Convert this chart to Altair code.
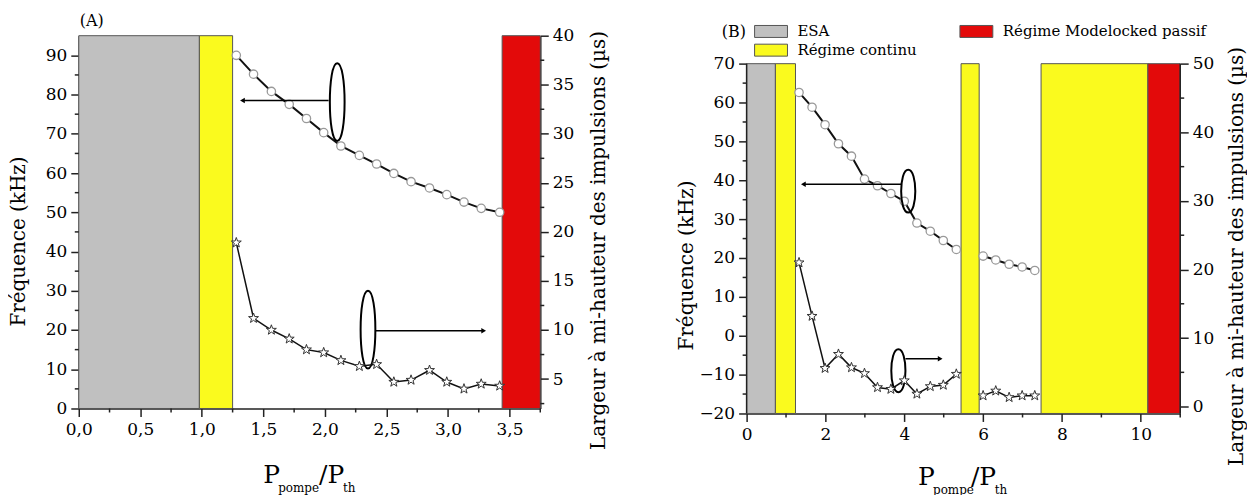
import altair as alt
import pandas as pd

FONT = "DejaVu Serif"

# ---------------- Panel A data ----------------
a_x = [1.28, 1.42, 1.565, 1.71, 1.85, 1.99, 2.13, 2.28, 2.42, 2.56, 2.70, 2.85, 2.99, 3.13, 3.27, 3.42]
a_freq = [90.0, 85.2, 80.8, 77.5, 73.9, 70.3, 66.9, 64.5, 62.3, 59.9, 57.8, 56.2, 54.5, 52.6, 51.0, 50.0]
a_width = [18.9, 11.2, 10.0, 9.1, 8.0, 7.7, 6.9, 6.3, 6.5, 4.7, 4.9, 5.9, 4.7, 4.0, 4.5, 4.3]
a_seg = [1] * 16
a_band_kind = ["ESA", "Régime continu", "Régime Modelocked passif"]
a_band_start = [0.0, 0.98, 3.44]
a_band_end = [0.98, 1.25, 3.75]
a_band_range = [0, 95]
a_x_domain = [0, 3.75]
a_left_domain = [0, 95]
a_right_domain = [2, 40]
a_x_major = [0, 0.5, 1.0, 1.5, 2.0, 2.5, 3.0, 3.5]
a_x_minor = [0.25, 0.75, 1.25, 1.75, 2.25, 2.75, 3.25, 3.75]
a_left_major = [0, 10, 20, 30, 40, 50, 60, 70, 80, 90]
a_left_minor = [5, 15, 25, 35, 45, 55, 65, 75, 85]
a_right_major = [5, 10, 15, 20, 25, 30, 35, 40]
a_right_minor = [2.5, 7.5, 12.5, 17.5, 22.5, 27.5, 32.5, 37.5]
a_ell_x = [2.10, 2.35]
a_ell_y = [78.1, 20.1]
a_arr_x1 = [2.03, 2.41]
a_arr_x2 = [1.33, 3.29]
a_arr_y = [78.5, 19.8]
a_arr_dir = ["left", "right"]

# ---------------- Panel B data ----------------
b_x = [1.33, 1.66, 1.99, 2.33, 2.66, 2.99, 3.32, 3.66, 4.0, 4.32, 4.66, 4.99, 5.32, 6.0, 6.32, 6.66, 6.99, 7.31]
b_freq = [62.6, 58.8, 54.3, 49.4, 46.2, 40.3, 38.6, 36.6, 34.6, 29.0, 26.9, 24.5, 22.2, 20.5, 19.5, 18.4, 17.7, 16.8]
b_width = [21.0, 13.2, 5.6, 7.65, 5.7, 4.85, 2.8, 2.55, 3.8, 1.85, 2.95, 3.15, 4.75, 1.6, 2.3, 1.35, 1.6, 1.6]
b_seg = [1, 1, 1, 1, 1, 1, 1, 1, 1, 1, 1, 1, 1, 2, 2, 2, 2, 2]
b_band_kind = ["ESA", "Régime continu", "Régime continu", "Régime continu", "Régime Modelocked passif"]
b_band_start = [0.0, 0.73, 5.44, 7.47, 10.18]
b_band_end = [0.73, 1.24, 5.9, 10.18, 11.0]
b_band_range = [-20, 70]
b_x_domain = [0, 11]
b_left_domain = [-20, 77.2]   # headroom above 70 leaves space for the legend
b_right_domain = [-1, 54.1]
b_x_major = [0, 2, 4, 6, 8, 10]
b_x_minor = [1, 3, 5, 7, 9, 11]
b_left_major = [-20, -10, 0, 10, 20, 30, 40, 50, 60, 70]
b_left_minor = [-15, -5, 5, 15, 25, 35, 45, 55, 65]
b_right_major = [0, 10, 20, 30, 40, 50]
b_right_minor = [5, 15, 25, 35, 45]
b_ell_x = [4.10, 3.85]
b_ell_y = [37.2, -9.0]
b_arr_x1 = [3.92, 4.03]
b_arr_x2 = [1.44, 4.91]
b_arr_y = [39.0, -5.9]
b_arr_dir = ["left", "right"]

legend_order = ["ESA", "Régime continu", "Régime Modelocked passif"]
legend_colors = ["#c0c0c0", "#fafa1e", "#e30a0a"]

AXIS_COLOR = "#222222"
STAR = ("M0,-1L0.235,-0.324L0.951,-0.309L0.380,0.124L0.588,0.809L0,0.4"
        "L-0.588,0.809L-0.380,0.124L-0.951,-0.309L-0.235,-0.324Z")
RECT = "M-2.75,-1H2.75V1H-2.75Z"


def ellipse_path(rx):
    c = round(rx * 4 / 3, 3)
    return f"M0,-1C{c},-1 {c},1 0,1C{-c},1 {-c},-1 0,-1Z"


def y_axis(values, orient, title, title_pad, title_y, baseline, domain):
    return alt.Axis(
        values=values, orient=orient, title=title, titlePadding=title_pad,
        titleY=title_y, titleAngle=270, titleBaseline=baseline, titleAlign="center",
        tickSize=8, labelOverlap=False, labelFlush=False, labelPadding=4, grid=False,
        domain=domain,
    )


def text_piece(s, x, y, size, baseline="alphabetic"):
    return alt.Chart(alt.Data(values=[{}])).mark_text(
        text=s, font=FONT, fontSize=size, align="left", baseline=baseline, color="black"
    ).encode(x=alt.value(x), y=alt.value(y))


def panel(p):
    xs = alt.Scale(domain=p["xdom"], nice=False, zero=False)
    ls = alt.Scale(domain=p["ldom"], nice=False, zero=False)
    rs = alt.Scale(domain=p["rdom"], nice=False, zero=False)
    x0, x1 = p["xdom"]

    n_b = len(p["band_kind"])
    bands_df = pd.DataFrame({"kind": p["band_kind"], "start": p["band_start"], "end": p["band_end"],
                             "lo": [p["band_range"][0]] * n_b, "hi": [p["band_range"][1]] * n_b})
    pts = pd.DataFrame({"x": p["x"], "freq": p["freq"], "width": p["width"], "seg": p["seg"]})
    ell = pd.DataFrame({"x": p["ell_x"], "y": p["ell_y"]})
    arr = pd.DataFrame({"x1": p["arr_x1"], "x2": p["arr_x2"], "y": p["arr_y"], "dir": p["arr_dir"]})

    xaxis = alt.Axis(values=p["xmajor"], title=None, labelExpr=p["xlabel"], tickSize=8,
                     labelOverlap=False, labelFlush=False, labelPadding=5, grid=False)

    bands = alt.Chart(bands_df).mark_rect(stroke="#555555", strokeWidth=1).encode(
        x=alt.X("start:Q", scale=xs, axis=xaxis),
        x2="end:Q",
        y=alt.Y("lo:Q", scale=ls,
                axis=y_axis(p["lmajor"], "left", "Fréquence (kHz)", p["ltitlepad"], p["ltitley"],
                            "bottom", p["ydomainline"])),
        y2="hi:Q",
        color=alt.Color("kind:N", scale=alt.Scale(domain=legend_order, range=legend_colors),
                        legend=p["legend"]),
    )
    # minor ticks (outward, shorter than the major ones)
    lminor = alt.Chart(pd.DataFrame({"v": p["lminor"], "x": [x0] * len(p["lminor"])})).mark_rule(
        color=AXIS_COLOR, strokeWidth=1.5, x2Offset=-4).encode(
        x=alt.X("x:Q", scale=xs), x2="x:Q", y=alt.Y("v:Q", scale=ls))
    xminor = alt.Chart(pd.DataFrame({"v": p["xminor"], "y": [p["ldom"][0]] * len(p["xminor"])})).mark_rule(
        color=AXIS_COLOR, strokeWidth=1.5, y2Offset=4).encode(
        x=alt.X("v:Q", scale=xs), y=alt.Y("y:Q", scale=ls), y2="y:Q")

    circ_line = alt.Chart(pts).mark_line(color="#111111", strokeWidth=2).encode(
        x=alt.X("x:Q", scale=xs), y=alt.Y("freq:Q", scale=ls), detail="seg:N")
    circ_pts = alt.Chart(pts).mark_point(shape="circle", filled=True, fill="white", stroke="#999999",
                                         strokeWidth=1.3, size=70, opacity=1).encode(
        x=alt.X("x:Q", scale=xs), y=alt.Y("freq:Q", scale=ls))
    ellipses = alt.Chart(ell).mark_point(shape=ellipse_path(p["ell_rx"]), size=p["ell_size"], filled=False,
                                         stroke="black", strokeWidth=2, opacity=1).encode(
        x=alt.X("x:Q", scale=xs), y=alt.Y("y:Q", scale=ls))
    arrows = alt.Chart(arr).mark_rule(color="black", strokeWidth=1.5).encode(
        x=alt.X("x1:Q", scale=xs), x2="x2:Q", y=alt.Y("y:Q", scale=ls))
    heads = alt.Chart(arr).mark_point(filled=True, fill="black", size=30, opacity=1).encode(
        x=alt.X("x2:Q", scale=xs), y=alt.Y("y:Q", scale=ls),
        shape=alt.Shape("dir:N", scale=alt.Scale(domain=["left", "right"],
                                                  range=["triangle-left", "triangle-right"]), legend=None))

    left_layers = [bands, lminor, xminor]
    if not p["ydomainline"]:
        lo, hi = p["band_range"]
        edges = pd.DataFrame({"x": [x0, x1], "lo": [lo, lo], "hi": [hi, hi]})
        left_layers.append(alt.Chart(edges).mark_rule(color=AXIS_COLOR, strokeWidth=1.5).encode(
            x=alt.X("x:Q", scale=xs), y=alt.Y("lo:Q", scale=ls), y2="hi:Q"))
    left_layers += [circ_line, circ_pts, ellipses, arrows, heads]
    for t in p["texts"]:
        left_layers.append(text_piece(*t))
    left = alt.layer(*left_layers)

    star_line = alt.Chart(pts).mark_line(color="#111111", strokeWidth=1.5).encode(
        x=alt.X("x:Q", scale=xs),
        y=alt.Y("width:Q", scale=rs,
                axis=y_axis(p["rmajor"], "right", "Largeur à mi-hauteur des impulsions (µs)",
                            p["rtitlepad"], p["rtitley"], "top", p["ydomainline"])),
        detail="seg:N")
    star_pts = alt.Chart(pts).mark_point(shape=STAR, filled=True, fill="white", stroke="#333333",
                                         strokeWidth=1, size=110, opacity=1).encode(
        x=alt.X("x:Q", scale=xs), y=alt.Y("width:Q", scale=rs))
    rminor = alt.Chart(pd.DataFrame({"v": p["rminor"], "x": [x1] * len(p["rminor"])})).mark_rule(
        color=AXIS_COLOR, strokeWidth=1.5, x2Offset=4).encode(
        x=alt.X("x:Q", scale=xs), x2="x:Q", y=alt.Y("v:Q", scale=rs))
    right = alt.layer(star_line, rminor, star_pts)

    return alt.layer(left, right).resolve_scale(y="independent").properties(
        width=p["w"], height=p["h"])


panel_a = panel(dict(
    x=a_x, freq=a_freq, width=a_width, seg=a_seg,
    band_kind=a_band_kind, band_start=a_band_start, band_end=a_band_end, band_range=a_band_range,
    xdom=a_x_domain, ldom=a_left_domain, rdom=a_right_domain,
    xmajor=a_x_major, xminor=a_x_minor,
    xlabel="replace(format(datum.value, '.1f'), '.', ',')",
    lmajor=a_left_major, lminor=a_left_minor, rmajor=a_right_major, rminor=a_right_minor,
    ltitlepad=17, rtitlepad=15, ltitley=206, rtitley=205, ydomainline=True,
    ell_x=a_ell_x, ell_y=a_ell_y, ell_rx=0.19, ell_size=6084,
    arr_x1=a_arr_x1, arr_x2=a_arr_x2, arr_y=a_arr_y, arr_dir=a_arr_dir,
    legend=None, w=463, h=374,
    texts=[("(A)", 1, -23, 16, "top"), ("P", 185, 449, 25), ("pompe", 200, 458, 12),
           ("/P", 241, 449, 25), ("th", 265, 458, 12)],
))

legend_b = alt.Legend(orient="none", legendX=17, legendY=-12, columns=2, title=None,
                      symbolType=RECT, symbolSize=144, symbolStrokeColor="#555555",
                      symbolStrokeWidth=1, labelFont=FONT, labelFontSize=15, labelColor="black",
                      labelOffset=19, columnPadding=41, rowPadding=2, padding=0, labelLimit=400)

panel_b = panel(dict(
    x=b_x, freq=b_freq, width=b_width, seg=b_seg,
    band_kind=b_band_kind, band_start=b_band_start, band_end=b_band_end, band_range=b_band_range,
    xdom=b_x_domain, ldom=b_left_domain, rdom=b_right_domain,
    xmajor=b_x_major, xminor=b_x_minor, xlabel="datum.label",
    lmajor=b_left_major, lminor=b_left_minor, rmajor=b_right_major, rminor=b_right_minor,
    ltitlepad=2, rtitlepad=13, ltitley=230, rtitley=221, ydomainline=False,
    ell_x=b_ell_x, ell_y=b_ell_y, ell_rx=0.33, ell_size=1849,
    arr_x1=b_arr_x1, arr_x2=b_arr_x2, arr_y=b_arr_y, arr_dir=b_arr_dir,
    legend=legend_b, w=435, h=379,
    texts=[("(B)", -25, 1, 16), ("P", 172, 451, 25), ("pompe", 187, 460, 12),
           ("/P", 225, 451, 25), ("th", 249, 460, 12)],
))

chart = alt.hconcat(panel_a, panel_b, spacing=68).resolve_scale(color="independent").properties(
    padding={"left": 0, "top": 4, "right": 0, "bottom": 0}
).configure_view(stroke=None).configure_axis(
    labelFont=FONT, titleFont=FONT, labelColor="black", titleColor="black",
    titleFontWeight="normal", labelFontSize=17, titleFontSize=20, labelOverlap=False,
    domainColor=AXIS_COLOR, tickColor=AXIS_COLOR, domainWidth=1.5, tickWidth=1.5,
)

chart.save("out.html", embed_options={"renderer": "svg", "actions": False})
